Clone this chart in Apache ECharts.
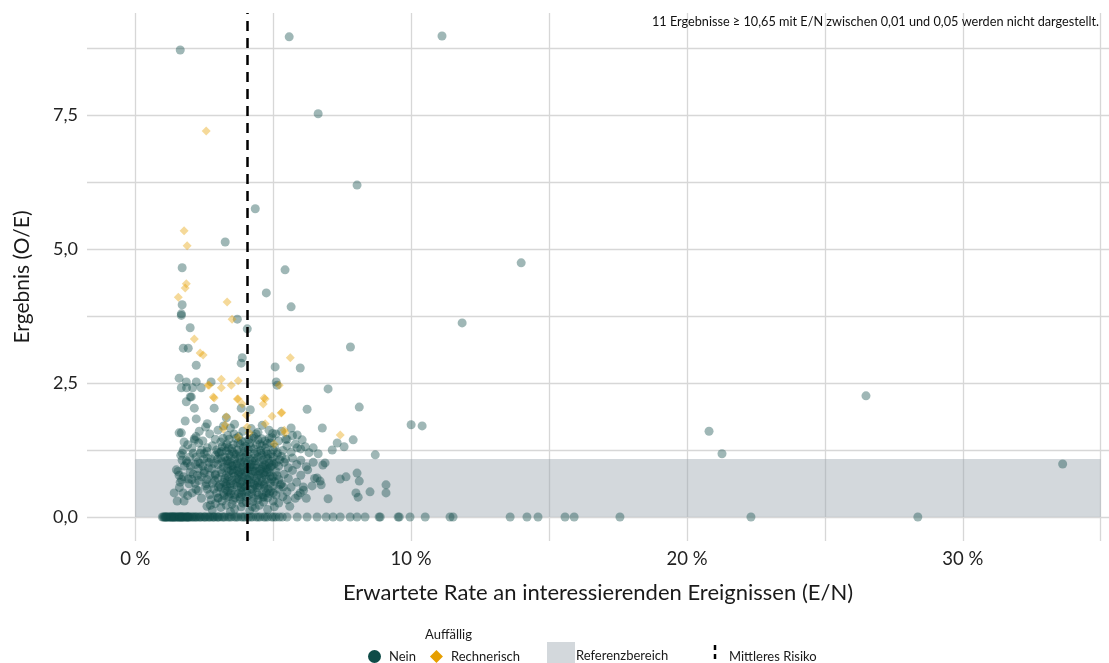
<!DOCTYPE html>
<html>
<head>
<meta charset="utf-8">
<script src="https://cdn.jsdelivr.net/npm/echarts@6/dist/echarts.min.js"></script>
<style>html,body{margin:0;padding:0;background:#fff}#c{width:1109px;height:663px}</style>
</head>
<body>
<div id="c"></div>
<script>
// ---- Data (x = expected rate E/N in %, y = result O/E) ----
const xTickValues = [0, 10, 20, 30];
const yTickValues = [0, 2.5, 5, 7.5];
const xGridLines = [0, 5, 10, 15, 20, 25, 30, 35];
const yGridLines = [0, 1.25, 2.5, 3.75, 5, 6.25, 7.5, 8.75];
const referenceRange = [0, 1.08];      // Referenzbereich O/E
const referenceXRange = [0, 35];       // width of reference band (E/N %)
const meanRisk = 4.06;                 // Mittleres Risiko (E/N %)

// Nein: points with O/E = 0 (x only)
const neinZeroX = [0.98,1.02,1.05,1.08,1.12,1.15,1.18,1.22,1.25,1.28,1.33,1.35,1.38,1.42,1.45,1.48,1.52,1.55,1.58,1.63,1.65,1.68,1.72,1.75,1.78,1.83,1.85,1.88,1.93,1.95,1.98,2.05,2.12,2.18,2.25,2.32,2.40,2.48,2.55,2.63,2.72,2.80,2.88,2.97,3.05,3.15,3.25,3.36,3.48,3.60,3.72,3.85,3.98,4.10,4.25,4.38,4.52,4.66,4.80,4.95,5.10,5.33,5.50,5.87,6.23,6.59,6.92,7.17,7.43,7.79,8.04,8.33,8.84,8.88,9.53,9.57,9.96,10.51,11.41,11.52,13.59,14.20,14.60,15.58,15.91,17.57,22.32,28.37,
 1.10,1.30,1.40,1.60,1.70,1.90,2.08,2.20,2.35,2.52,2.68,2.84,3.00,3.20,3.42,3.66,3.92,4.18,4.45,4.72,5.02,5.22];

// Nein: outlying points
const neinOutliers = [
 [1.63,8.71],[5.58,8.955],[11.12,8.97],[6.63,7.52],[8.04,6.19],[4.35,5.75],[3.26,5.13],[1.70,4.65],[5.43,4.61],[13.99,4.74],
 [4.75,4.18],[5.65,3.92],[11.85,3.62],[1.67,3.79],[1.67,3.76],[1.70,3.96],[1.99,3.53],[3.70,3.69],[4.06,3.51],[1.74,3.15],[1.92,3.15],
 [7.80,3.17],[2.21,2.83],[3.88,2.97],[3.84,2.87],[5.07,2.80],[5.98,2.78],[1.59,2.59],[1.85,2.52],[2.21,2.52],[1.67,2.41],[1.86,2.41],
 [2.08,2.41],[2.39,2.41],[2.75,2.52],[5.11,2.52],[5.14,2.46],[6.99,2.39],[2.03,2.24],[1.99,2.24],[1.85,2.15],[2.14,2.03],[2.86,2.03],
 [3.84,2.03],[4.17,2.00],[6.23,2.01],[8.12,2.05],[2.21,1.83],[1.81,1.79],[1.67,1.57],[1.59,1.57],[2.32,1.60],[2.61,1.74],[3.30,1.85],
 [5.65,1.66],[5.87,1.53],[6.78,1.66],[7.32,1.38],[7.90,1.44],[7.57,1.31],[8.70,1.16],[7.14,1.25],[6.63,1.18],[6.88,1.01],[7.43,0.71],
 [7.64,0.75],[8.04,0.82],[8.12,0.67],[9.09,0.60],[9.09,0.45],[8.51,0.47],[8.00,0.45],[8.08,0.37],[6.99,0.34],[6.20,0.35],[6.70,0.67],
 [6.41,0.58],[6.59,0.73],[6.74,0.60],[6.45,1.29],[6.05,1.44],[6.16,1.31],[5.87,1.29],[6.09,0.56],[5.98,0.45],[5.80,0.35],[5.51,0.32],
 [5.36,0.56],[10.00,1.72],[10.40,1.70],[20.80,1.60],[21.27,1.18],[26.49,2.26],[33.62,0.99],
 [1.41,0.45],[1.52,0.30],[1.77,0.30],[1.74,0.45],[2.06,0.45],[1.49,0.88],[1.59,0.78],[1.63,0.65],[1.70,1.19],[1.70,1.06],[1.74,1.25],
 [1.77,1.40],[1.88,1.01],[1.99,0.84],[1.92,0.71],[2.25,0.78],[2.17,0.63],[2.28,0.49],[2.10,1.19],[2.14,1.46],[2.36,1.19],[2.28,1.03],
 [2.61,1.29],[2.61,1.10],[2.50,0.82],[2.61,0.52],[2.75,0.32],[3.01,0.35],[2.72,0.22],[2.79,0.13],[3.01,0.56],[2.90,0.78],[3.33,0.37],
 [3.51,0.24],[3.84,0.19],[4.02,0.28],[4.24,0.19],[4.35,0.17],[3.80,0.37],[4.67,0.37],[5.00,0.30],[5.04,0.19],[5.00,0.45]
];

// Nein: dense cluster
const neinCluster = [
 [3.0,1.62],[3.2,1.70],[3.45,1.66],[3.6,1.73],[3.9,1.60],[4.2,1.65],[4.45,1.58],[4.6,1.71],[4.85,1.62],[5.1,1.55],[5.3,1.60],[2.7,1.55],
 [2.55,1.68],[3.35,1.52],[3.75,1.50],[4.3,1.50],[4.95,1.48],[5.5,1.45],[5.7,1.52],[2.9,1.45],[2.2,1.50],[2.45,1.42],
 [1.9,1.35],[2.05,1.28],[2.3,1.38],[2.6,1.22],[2.8,1.33],[2.95,1.25],[3.1,1.40],[3.25,1.30],[3.4,1.45],[3.55,1.35],[3.7,1.25],[3.85,1.42],
 [4.0,1.32],[4.15,1.38],[4.3,1.27],[4.45,1.44],[4.6,1.33],[4.75,1.22],[4.9,1.38],[5.05,1.30],[5.2,1.42],[5.35,1.24],[5.5,1.33],[5.65,1.21],
 [5.8,1.36],[6.0,1.27],[6.3,1.20],[3.0,1.21],[3.3,1.23],[3.65,1.47],[3.95,1.22],[4.25,1.47],[4.55,1.24],[4.85,1.47],[5.15,1.20],[2.4,1.25],
 [2.15,1.43],[3.15,1.31],[3.5,1.28],[3.8,1.36],[4.1,1.26],[4.4,1.35],[4.7,1.42],[5.0,1.25],[5.45,1.45],
 [1.65,1.15],[1.85,1.05],[2.0,0.95],[2.2,1.12],[2.35,1.00],[2.5,1.18],[2.65,0.92],[2.75,1.08],[2.9,1.15],[3.0,0.98],[3.1,1.10],[3.2,0.93],
 [3.3,1.05],[3.4,1.17],[3.5,0.96],[3.6,1.08],[3.7,1.00],[3.8,1.14],[3.9,0.94],[4.0,1.06],[4.1,1.18],[4.2,0.98],[4.3,1.10],[4.4,0.91],
 [4.5,1.03],[4.6,1.15],[4.7,0.97],[4.8,1.09],[4.9,0.93],[5.0,1.12],[5.1,1.01],[5.2,0.95],[5.3,1.13],[5.4,1.02],[5.55,0.92],[5.7,1.10],
 [5.85,0.98],[6.0,1.06],[6.2,0.94],[6.45,1.02],[6.8,0.97],[3.05,1.19],[3.35,0.91],[3.65,1.16],[3.95,1.02],[4.25,0.93],[4.55,1.19],[4.85,1.00],
 [5.15,1.16],[5.45,1.08],[3.45,1.02],[3.75,0.93],[4.05,0.99],[4.35,1.05],[4.65,1.07],[4.95,1.04],[3.15,1.03],[2.45,0.95],[2.85,1.00],
 [1.55,0.85],[1.75,0.75],[1.95,0.62],[2.1,0.80],[2.3,0.68],[2.5,0.86],[2.6,0.70],[2.8,0.63],[2.9,0.80],[3.0,0.72],[3.1,0.88],[3.2,0.65],
 [3.3,0.78],[3.4,0.85],[3.5,0.68],[3.6,0.76],[3.7,0.87],[3.8,0.63],[3.9,0.74],[4.0,0.84],[4.1,0.69],[4.2,0.80],[4.3,0.61],[4.4,0.73],
 [4.5,0.86],[4.6,0.66],[4.7,0.78],[4.8,0.89],[4.9,0.64],[5.0,0.75],[5.1,0.85],[5.2,0.70],[5.3,0.62],[5.4,0.80],[5.55,0.72],[5.7,0.87],
 [5.85,0.65],[6.0,0.78],[6.25,0.88],[6.5,0.72],[3.25,0.72],[3.55,0.82],[3.85,0.79],[4.15,0.75],[4.45,0.64],[4.75,0.70],[5.05,0.66],
 [3.45,0.62],[3.75,0.70],[4.05,0.62],[4.35,0.85],[4.65,0.82],[2.7,0.78],[2.4,0.75],[2.05,0.70],
 [1.6,0.55],[1.9,0.40],[2.2,0.52],[2.4,0.35],[2.55,0.58],[2.7,0.42],[2.85,0.52],[3.0,0.36],[3.1,0.55],[3.2,0.45],[3.3,0.58],[3.4,0.38],
 [3.5,0.50],[3.6,0.42],[3.7,0.57],[3.8,0.33],[3.9,0.48],[4.0,0.56],[4.1,0.40],[4.2,0.52],[4.3,0.35],[4.4,0.46],[4.5,0.58],[4.6,0.42],
 [4.7,0.53],[4.8,0.36],[4.9,0.48],[5.0,0.58],[5.1,0.41],[5.2,0.52],[5.35,0.38],[5.5,0.47],[5.65,0.56],[5.9,0.40],[6.1,0.50],[3.15,0.30],
 [3.55,0.31],[4.25,0.29],[3.75,0.44],[4.45,0.32],[3.35,0.48],[4.05,0.47],[4.75,0.45],[2.95,0.45],[3.85,0.55],
 [2.9,0.25],[3.1,0.18],[3.3,0.22],[3.6,0.15],[3.9,0.26],[4.15,0.12],[4.5,0.22],[4.8,0.14],[5.2,0.26],[5.6,0.20],[3.45,0.10],[4.65,0.28],[2.6,0.20],
 [3.25,1.12],[3.35,0.99],[3.45,1.13],[3.55,0.88],[3.65,0.99],[3.75,1.09],[3.85,0.87],[3.95,1.11],[4.05,0.91],[4.15,1.08],[4.25,0.86],[4.35,0.97],
 [4.45,1.12],[4.55,0.89],[4.65,0.98],[4.75,1.13],[4.85,0.84],[4.95,0.96],[3.28,0.62],[3.38,0.75],[3.48,0.87],[3.58,0.60],[3.68,0.72],[3.78,0.84],
 [3.88,0.66],[3.98,0.77],[4.08,0.88],[4.18,0.64],[4.28,0.76],[4.38,0.67],[4.48,0.79],[4.58,0.73],[4.68,0.61],[4.78,0.84],[4.88,0.76],[3.22,0.40],
 [3.42,0.54],[3.62,0.36],[3.82,0.50],[4.02,0.38],[4.22,0.44],[4.42,0.55],[4.62,0.37],[4.82,0.52],[3.32,1.36],[3.52,1.22],[3.72,1.38],[3.92,1.29],
 [4.12,1.45],[4.32,1.18],[4.52,1.36],[4.72,1.29],[4.92,1.18],
 [3.12,1.22],[3.36,1.06],[3.58,1.18],[3.82,1.02],[4.02,1.15],[4.22,1.04],[4.42,1.21],[4.62,0.94],[4.82,1.17],[5.02,0.99],[5.24,1.07],
 [3.14,0.82],[3.34,0.68],[3.54,0.95],[3.74,0.79],[3.94,0.58],[4.14,0.93],[4.34,0.59],[4.54,0.81],[4.74,0.92],[4.94,0.71],[5.14,0.77],
 [3.06,0.60],[3.26,0.52],[3.46,0.44],[3.66,0.64],[3.86,0.42],[4.06,0.70],[4.26,0.51],[4.46,0.41],[4.66,0.58],[4.86,0.44],[5.26,0.60],
 [2.98,1.08],[3.18,1.47],[3.38,1.29],[3.58,1.55],[3.78,1.21],[3.98,1.40],[4.18,1.31],[4.38,1.55],[4.58,1.46],[4.78,1.37],[4.98,1.56],
 [2.78,0.90],[2.88,0.68],[2.68,1.02],[2.58,0.62],[2.48,1.08],[2.28,0.90],[2.18,0.98],[1.98,1.12],[1.78,0.95],[1.68,0.70]
];

// Rechnerisch (auffällig)
const rechnerisch = [
 [2.57,7.20],[1.77,5.34],[1.88,5.06],[1.85,4.35],[1.81,4.27],[1.56,4.10],[3.33,4.01],[3.51,3.69],[2.14,3.32],[2.35,3.06],[2.46,3.02],
 [5.62,2.97],[3.12,2.57],[3.73,2.54],[3.48,2.46],[3.12,2.41],[2.68,2.46],[2.64,2.46],[5.22,2.46],[2.83,2.24],[2.86,2.22],[3.73,2.20],
 [3.70,2.20],[4.67,2.22],[4.71,2.20],[4.64,2.11],[3.88,2.11],[4.02,1.90],[4.96,1.88],[5.29,1.94],[5.31,1.95],[4.71,1.74],[4.06,1.68],
 [3.30,1.87],[3.26,1.72],[3.19,1.64],[3.73,1.49],[4.13,1.57],[5.40,1.62],[5.43,1.57],[5.04,1.36],[7.43,1.53]
];

// ---- Chart ----
const FONT = 'Lato, "Open Sans", sans-serif';
const neinData = neinZeroX.map(x => [x, 0]).concat(neinOutliers, neinCluster);
const chart = echarts.init(document.getElementById('c'), null, {renderer: 'canvas'});
chart.setOption({
  animation: false,
  backgroundColor: '#fff',
  textStyle: {fontFamily: FONT},
  title: {
    text: '11 Ergebnisse \u2265 10,65 mit E/N zwischen 0,01 und 0,05 werden nicht dargestellt.',
    right: 5, top: 10,
    textStyle: {fontFamily: FONT, fontSize: 12.7, fontWeight: 'normal', color: '#111'}
  },
  grid: {left: 87, right: 0, top: 13, bottom: 122, containLabel: false},
  xAxis: {
    type: 'value', min: -1.75, max: 35.3,
    name: 'Erwartete Rate an interessierenden Ereignissen (E/N)',
    nameLocation: 'middle', nameGap: 41,
    nameTextStyle: {fontFamily: FONT, fontSize: 22, color: '#1a1a1a'},
    axisLine: {show: false}, axisTick: {show: false, customValues: xTickValues},
    splitLine: {show: false},
    axisLabel: {customValues: xTickValues, margin: 9, fontSize: 18.5, color: '#222', fontFamily: FONT,
      formatter: v => Math.round(v) + ' %'}
  },
  yAxis: {
    type: 'value', min: -0.447, max: 9.40,
    name: 'Ergebnis (O/E)', nameLocation: 'middle', nameGap: 54, nameRotate: 90,
    nameTextStyle: {fontFamily: FONT, fontSize: 21, color: '#1a1a1a'},
    axisLine: {show: false}, axisTick: {show: false, customValues: yTickValues},
    splitLine: {show: false},
    axisLabel: {customValues: yTickValues, margin: 9, fontSize: 18, color: '#222', fontFamily: FONT,
      formatter: v => v.toFixed(1).replace('.', ',')}
  },
  legend: [
    {
      data: [{name: 'Nein', icon: 'circle'}, {name: 'Rechnerisch', icon: 'diamond'}],
      left: 368, top: 650, padding: 0, itemWidth: 13, itemHeight: 13, itemGap: 14,
      itemStyle: {opacity: 1},
      textStyle: {fontFamily: FONT, fontSize: 13, color: '#1a1a1a', padding: [0, 0, 0, 3]},
      selectedMode: false
    },
    {
      data: [{name: 'Referenzbereich', icon: 'rect'}],
      left: 547, top: 642, padding: 0, itemWidth: 28, itemHeight: 28, itemGap: 0,
      itemStyle: {opacity: 1},
      textStyle: {fontFamily: FONT, fontSize: 13, color: '#1a1a1a', padding: [0, 0, 0, -4]},
      selectedMode: false
    }
  ],
  graphic: [
    {type: 'text', left: 425, top: 628, style: {text: 'Auffällig', font: '13px ' + FONT, fill: '#1a1a1a'}},
    {type: 'line', shape: {x1: 715, y1: 645, x2: 715, y2: 663}, style: {stroke: '#000', lineWidth: 2.5, lineDash: [5, 4]}},
    {type: 'text', left: 729, top: 650, style: {text: 'Mittleres Risiko', font: '13px ' + FONT, fill: '#1a1a1a'}}
  ],
  series: [
    {
      name: 'grid', type: 'scatter', data: [], silent: true, z: 0,
      markLine: {
        z: 0, silent: true, symbol: 'none', label: {show: false}, animation: false,
        lineStyle: {type: 'solid', color: '#d7d7d7', width: 1.3},
        data: xGridLines.map(v => ({xAxis: v})).concat(yGridLines.map(v => ({yAxis: v})))
      }
    },
    {
      name: 'Referenzbereich', type: 'scatter', data: [], silent: true, z: 1,
      itemStyle: {color: '#d3d8dc'},
      markArea: {
        z: 1, silent: true, label: {show: false},
        itemStyle: {color: '#96a1ab', opacity: 0.42},
        data: [[{xAxis: referenceXRange[0], yAxis: referenceRange[0]}, {xAxis: referenceXRange[1], yAxis: referenceRange[1]}]]
      }
    },
    {
      name: 'Nein', type: 'scatter', symbol: 'circle', symbolSize: 9, z: 3,
      itemStyle: {color: '#0f4c48', opacity: 0.4},
      data: neinData
    },
    {
      name: 'Rechnerisch', type: 'scatter', symbol: 'diamond', symbolSize: 9, z: 3,
      itemStyle: {color: '#e69f00', opacity: 0.4},
      data: rechnerisch
    },
    {
      name: 'Mittleres Risiko', type: 'scatter', data: [], silent: true, z: 10,
      markLine: {
        z: 10, silent: true, symbol: 'none', label: {show: false}, animation: false,
        lineStyle: {type: [10, 7], color: '#000', width: 2.5},
        data: [{xAxis: meanRisk}]
      }
    }
  ]
});
</script>
</body>
</html>
